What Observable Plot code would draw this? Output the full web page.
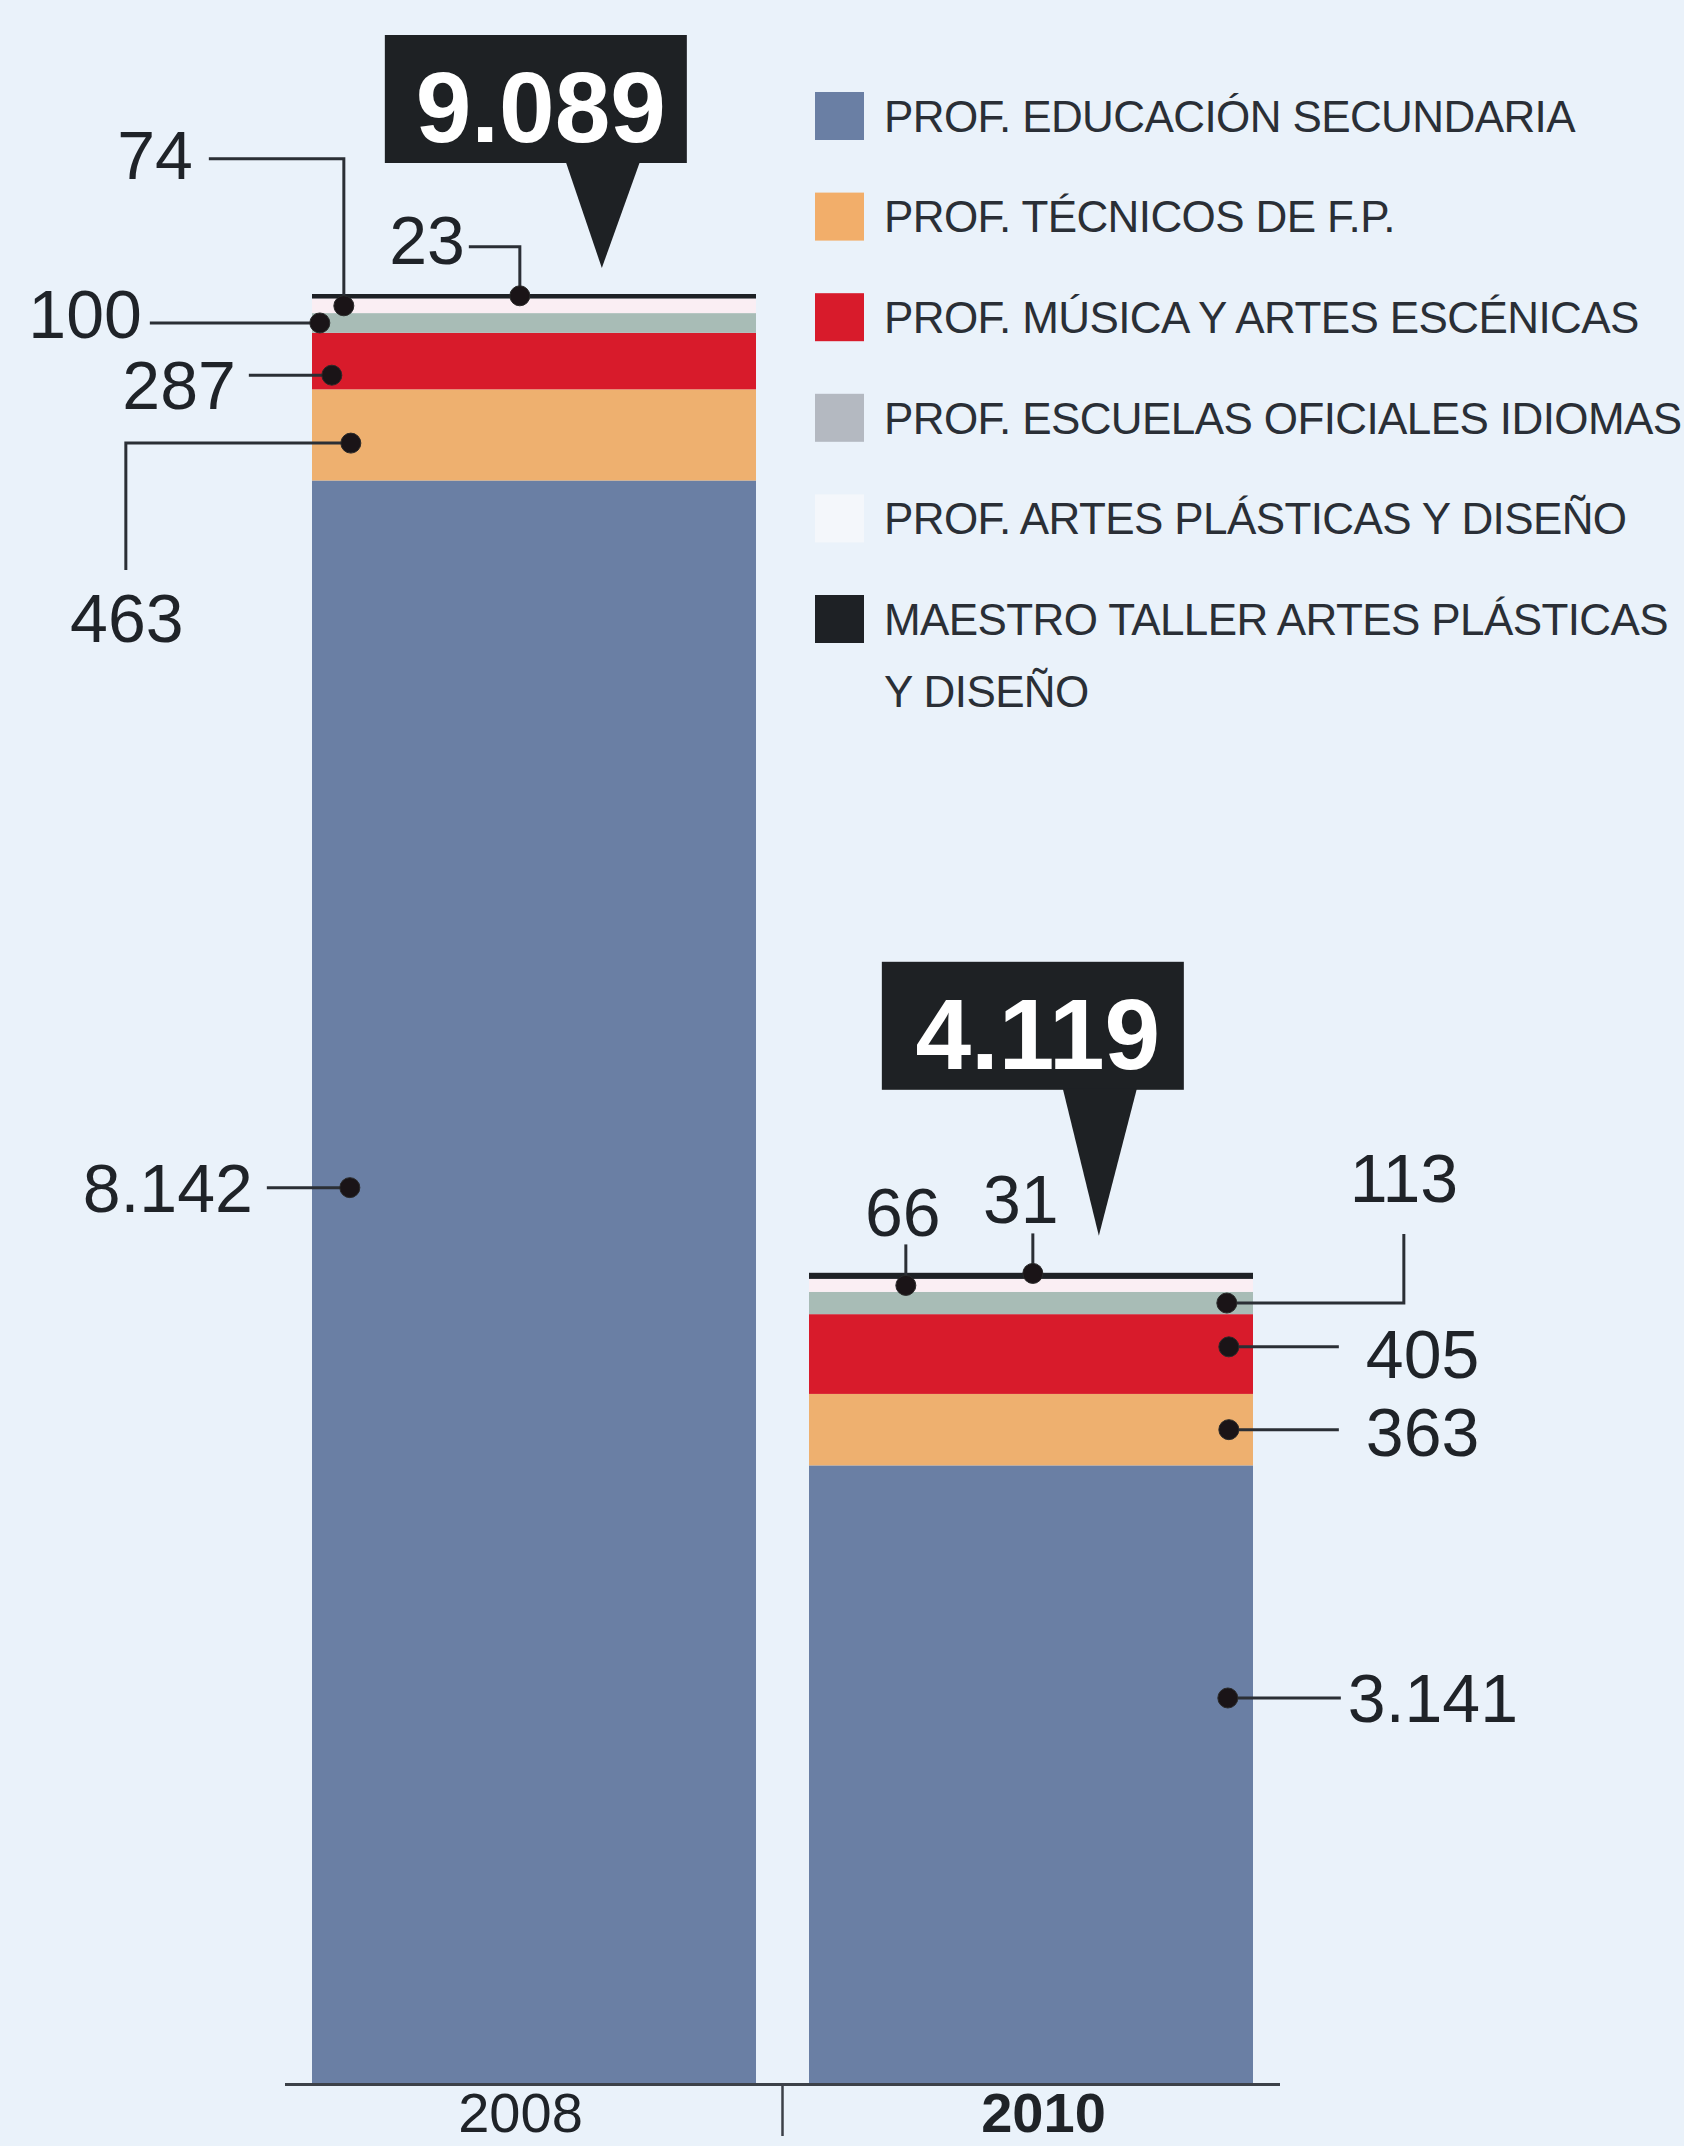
<!DOCTYPE html>
<html>
<head>
<meta charset="utf-8">
<script src="https://cdn.jsdelivr.net/npm/d3@7"></script>
<script src="https://cdn.jsdelivr.net/npm/@observablehq/plot@0.6"></script>
<style>
  html, body { margin: 0; padding: 0; background: #eaf2fa; }
  #chart { width: 1684px; height: 2146px; overflow: hidden; }
  svg { display: block; }
</style>
</head>
<body>
<div id="chart"></div>
<script>
// ---------- DATA ----------
const years = ["2008", "2010"];
const categories = [
  "PROF. EDUCACIÓN SECUNDARIA",
  "PROF. TÉCNICOS DE F.P.",
  "PROF. MÚSICA Y ARTES ESCÉNICAS",
  "PROF. ESCUELAS OFICIALES IDIOMAS",
  "PROF. ARTES PLÁSTICAS Y DISEÑO",
  "MAESTRO TALLER ARTES PLÁSTICAS Y DISEÑO"
];
const values2008 = [8142, 463, 287, 100, 74, 23];
const values2010 = [3141, 363, 405, 113, 66, 31];
const totals = [9089, 4119];

// ---------- STYLE / LAYOUT ----------
const colors = ["#6a7fa4", "#eeb06f", "#d81b2b", "#a8bcb6", "#faeef3", "#1e2125"];
const legendSwatch = ["#6a7fa4", "#f2ae6a", "#d81b2b", "#b4b9c1", "#f4f7fb", "#1e2125"];
const ink = "#1f2328";
const labelFont = "'Liberation Sans', Arial, sans-serif";

// annotation layout per year / category (pixel offsets from dot)
const annotLayout = [
  [
    {dx: 38,  f: 0.559, path: [[-83, 0]], label: [-97, 0], anchor: "end"},
    {dx: 39,  f: 0.41,  path: [[-225, 0], [-225, 127]], label: [-224, 174], anchor: "middle"},
    {dx: 20,  f: 0.25,  path: [[-83, 0]], label: [-96, 9], anchor: "end"},
    {dx: 8,   f: 0.5,   path: [[-170, 0]], label: [-178, -9], anchor: "end"},
    {dx: 32,  f: 0.5,   path: [[0, -147], [-135, -147]], label: [-151, -151], anchor: "end"},
    {dx: 208, f: 0.6,   path: [[0, -49], [-51, -49]], label: [-55, -56], anchor: "end"}
  ],
  [
    {dx: 419, f: 0.624, path: [[113, 0]], label: [120, 0], anchor: "start"},
    {dx: 420, f: 0.5,   path: [[110, 0]], label: [137, 2], anchor: "start"},
    {dx: 420, f: 0.59,  path: [[110, 0]], label: [137, 7], anchor: "start"},
    {dx: 418, f: 0.5,   path: [[177, 0], [177, -69]], label: [177, -126], anchor: "middle"},
    {dx: 97,  f: 0.5,   path: [[0, -41]], label: [-3, -74], anchor: "middle"},
    {dx: 224, f: 0.9,   path: [[0, -40]], label: [-12, -75], anchor: "middle"}
  ]
];
const totalLayout = {tipDx: 290, tipGap: [26, 37], pointerLen: [105, 146], boxW: 302, boxH: 128, boxOff: -217, triL: -36, triR: 38};

// ---------- BUILD ----------
const seriesByYear = [values2008, values2010];
const rows = years.flatMap((year, i) =>
  categories.map((category, j) => ({year, category, value: seriesByYear[i][j]})));

const fmt = d3.formatLocale({decimal: ",", thousands: ".", grouping: [3], currency: ["", "€"]}).format(",d");

const plot = Plot.plot({
  width: 1684,
  height: 2146,
  marginTop: 294,
  marginBottom: 62,
  marginLeft: 285,
  marginRight: 404,
  style: {background: "#eaf2fa", fontFamily: labelFont, color: ink},
  x: {domain: years, paddingInner: 0.106, paddingOuter: 0.054, axis: null},
  y: {domain: [0, d3.max(totals)], axis: null},
  color: {domain: categories, range: colors},
  marks: [
    Plot.barY(rows, {x: "year", y: "value", fill: "category", insetLeft: 0, insetRight: 0}),
    Plot.ruleY([0], {stroke: "#3c4148", strokeWidth: 3}),
    Plot.text(years, {filter: (d, i) => i === 0, x: d => d, y: () => 0, dy: 30, dx: -14, text: d => d,
      fontSize: 56, fill: ink, fontFamily: labelFont}),
    Plot.text(years, {filter: (d, i) => i === 1, x: d => d, y: () => 0, dy: 30, dx: 12, text: d => d,
      fontSize: 56, fontWeight: "bold", fill: ink, fontFamily: labelFont})
  ]
});

document.getElementById("chart").appendChild(plot);

// scales from the plot
const sx = plot.scale("x"), sy = plot.scale("y");
const xs = d3.scaleBand().domain(sx.domain).range(sx.range)
  .paddingInner(sx.paddingInner).paddingOuter(sx.paddingOuter).align(sx.align ?? 0.5);
const ys = d3.scaleLinear().domain(sy.domain).range(sy.range);

const svg = d3.select(plot);
const g = svg.append("g");

// tick between the bars
{
  const xm = (xs(years[0]) + xs.bandwidth() + xs(years[1])) / 2;
  g.append("line").attr("x1", xm).attr("x2", xm).attr("y1", ys(0)).attr("y2", ys(0) + 52)
    .attr("stroke", "#3c4148").attr("stroke-width", 2.5);
}

// value annotations
years.forEach((year, i) => {
  const vals = seriesByYear[i];
  const cum = d3.cumsum(vals);
  const x0 = xs(year);
  vals.forEach((v, j) => {
    const L = annotLayout[i][j];
    const lo = cum[j] - v, hi = cum[j];
    const px = x0 + L.dx;
    const py = ys(lo + L.f * (hi - lo));
    const pts = [[px, py], ...L.path.map(([a, b]) => [px + a, py + b])];
    g.append("path").attr("d", d3.line()(pts)).attr("fill", "none")
      .attr("stroke", "#2b2f35").attr("stroke-width", 3);
    g.append("circle").attr("cx", px).attr("cy", py).attr("r", 10)
      .attr("fill", "#1a1417").attr("stroke", "#2a2a2a").attr("stroke-width", 1);
    g.append("text").attr("x", px + L.label[0]).attr("y", py + L.label[1]).attr("dy", "0.36em")
      .attr("text-anchor", L.anchor).attr("font-size", 68).attr("font-family", labelFont)
      .attr("fill", ink).text(fmt(v));
  });

  // total callout
  const T = totalLayout;
  const tipX = x0 + T.tipDx;
  const tipY = ys(totals[i]) - T.tipGap[i];
  const boxBottom = tipY - T.pointerLen[i];
  const boxLeft = tipX + T.boxOff;
  g.append("rect").attr("x", boxLeft).attr("y", boxBottom - T.boxH).attr("width", T.boxW).attr("height", T.boxH)
    .attr("fill", "#1e2124");
  g.append("path").attr("d", d3.line()([[tipX + T.triL, boxBottom - 1], [tipX + T.triR, boxBottom - 1], [tipX, tipY]]) + "Z")
    .attr("fill", "#1e2124");
  g.append("text").attr("x", boxLeft + T.boxW / 2 + 5).attr("y", boxBottom - T.boxH / 2 + 7).attr("dy", "0.36em")
    .attr("text-anchor", "middle").attr("font-size", 100).attr("font-weight", "bold")
    .attr("font-family", labelFont).attr("fill", "#ffffff").text(fmt(totals[i]));
});

// legend (top right)
{
  const lg = svg.append("g").attr("transform", "translate(815,116)").attr("text-anchor", "start");
  categories.forEach((c, i) => {
    const words = c.split(" ");
    const lines = words.length > 5 ? [words.slice(0, 4).join(" "), words.slice(4).join(" ")] : [c];
    const row = lg.append("g").attr("transform", `translate(0,${i * 100.6})`);
    row.append("rect").attr("x", 0).attr("y", -24).attr("width", 49).attr("height", 48)
      .attr("fill", legendSwatch[i]);
    lines.forEach((ln, k) => {
      row.append("text").attr("x", 69).attr("y", k * 72).attr("dy", "0.36em")
        .attr("text-anchor", "start")
        .attr("font-size", 44).attr("letter-spacing", "-0.6px")
        .attr("font-family", labelFont).attr("fill", "#2a2f36").text(ln);
    });
  });
}
</script>
</body>
</html>
